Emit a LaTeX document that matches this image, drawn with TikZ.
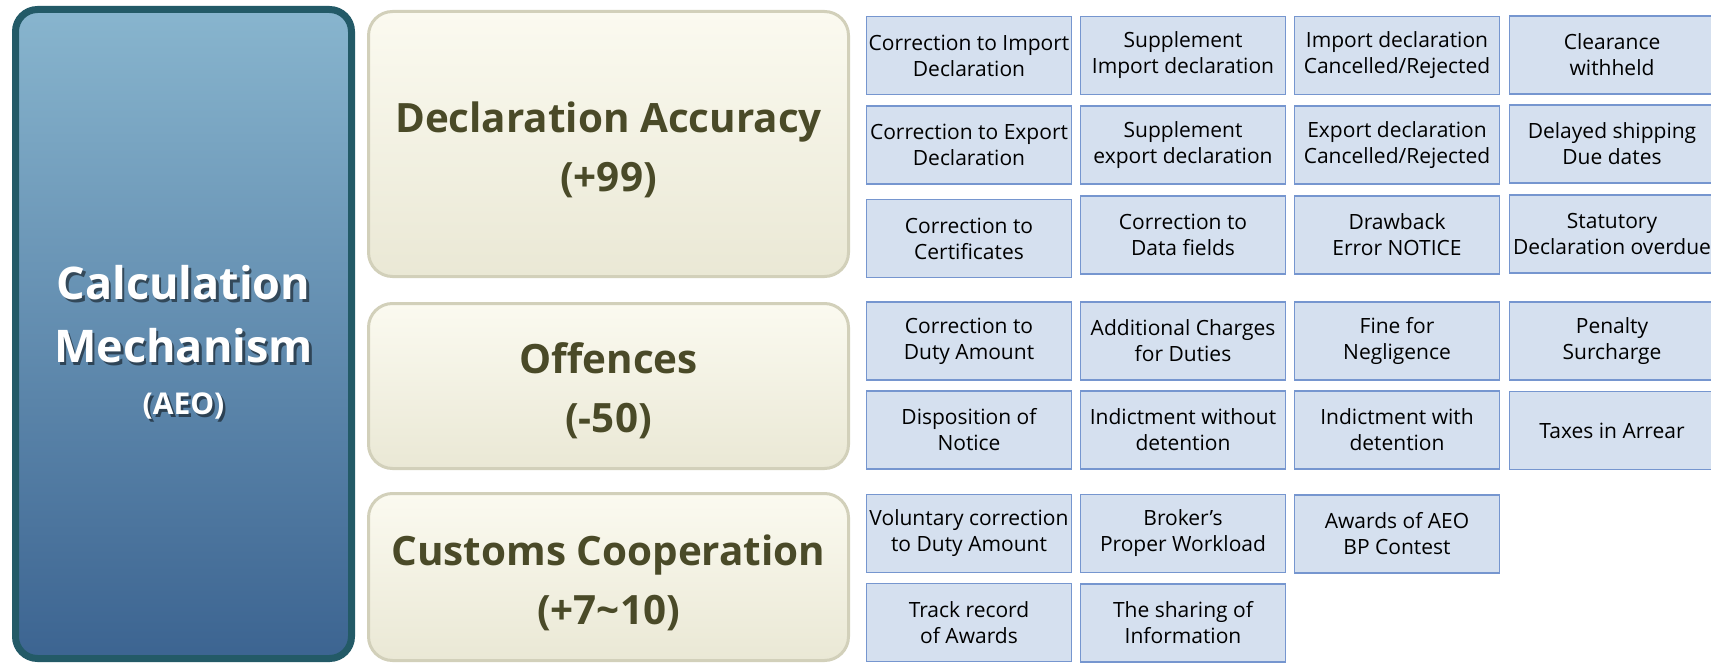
\documentclass[tikz,border=0pt]{standalone}
\usepackage{fontspec}
\setmainfont{Open Sans}
\usetikzlibrary{positioning}

\definecolor{mechtop}{HTML}{88B5CE}
\definecolor{mechbot}{HTML}{3C6491}
\definecolor{mechline}{HTML}{235A67}
\definecolor{grptop}{HTML}{FBFAF0}
\definecolor{grpbot}{HTML}{EAE8D5}
\definecolor{grpline}{HTML}{D2D0BA}
\definecolor{grptext}{HTML}{4A4A28}
\definecolor{cellfill}{HTML}{D5E0EF}
\definecolor{cellline}{HTML}{7696CF}

\tikzset{
  mechbox/.style={draw=mechline, line width=3.5pt, rounded corners=11pt,
    top color=mechtop, bottom color=mechbot,
    minimum width=168pt, minimum height=324.5pt, inner sep=0pt},
  mechtext/.style={text=white, font=\bfseries\fontsize{22.5}{28}\selectfont, inner sep=0pt},
  mechsmall/.style={mechtext, font=\bfseries\fontsize{15}{18}\selectfont},
  mechshadow/.style={text=black, opacity=0.5},
  grpbox/.style={draw=grpline, line width=1.5pt, rounded corners=12pt,
    top color=grptop, bottom color=grpbot, minimum width=240pt, inner sep=0pt},
  grptitle/.style={text=grptext, align=center, inner sep=0pt,
    font=\bfseries\fontsize{20.2}{29.5}\selectfont},
  cell/.style={draw=cellline, fill=cellfill, line width=0.75pt,
    minimum width=102.5pt, minimum height=39pt, inner sep=0pt, align=center,
    font=\fontsize{10.5}{13}\selectfont},
}

\begin{document}
\begin{tikzpicture}[x=0.5pt,y=-0.5pt]
  \useasboundingbox (0,0) rectangle (1711,663);

  % left block
  \node[mechbox] (mech) at (183.5,334) {};
  \node[mechtext,mechshadow] (calc-s) at (186,286) {Calculation};
  \node[mechtext,mechshadow] (mecha-s) at (186,349) {Mechanism};
  \node[mechsmall,mechshadow] (aeo-s) at (186,409) {(AEO)};
  \node[mechtext] (calc) at (183.5,283) {Calculation};
  \node[mechtext] (mecha) at (183.5,346) {Mechanism};
  \node[mechsmall] (aeo) at (183.5,406) {(AEO)};

  % groups
  \node[grpbox, minimum height=132.5pt] (accuracy) at (608.5,144) {};
  \node[grptitle] (accuracy-t) at (608.5,150) {Declaration Accuracy\\(+99)};

  \node[grpbox, minimum height=82.5pt] (offences) at (608.5,386) {};
  \node[grptitle] (offences-t) at (608.5,391) {Offences\\(-50)};

  \node[grpbox, minimum height=83.5pt] (coop) at (608.5,577) {};
  \node[grptitle] (coop-t) at (608.5,583) {Customs Cooperation\\(+7\textasciitilde 10)};

  % declaration accuracy items
  \node[cell] (acc11) at (969,55.5) {Correction to Import\\Declaration};
  \node[cell] (acc12) at (1183,55.5) {Supplement\\Import declaration};
  \node[cell] (acc13) at (1397,55.5) {Import declaration\\Cancelled/Rejected};
  \node[cell] (acc14) at (1612,55) {Clearance\\withheld};

  \node[cell] (acc21) at (969,145) {Correction to Export\\Declaration};
  \node[cell] (acc22) at (1183,145) {Supplement\\export declaration};
  \node[cell] (acc23) at (1397,145) {Export declaration\\Cancelled/Rejected};
  \node[cell] (acc24) at (1612,144) {Delayed shipping\\Due dates};

  \node[cell] (acc31) at (969,238.5) {Correction to\\Certificates};
  \node[cell] (acc32) at (1183,235) {Correction to\\Data fields};
  \node[cell] (acc33) at (1397,235) {Drawback\\Error NOTICE};
  \node[cell] (acc34) at (1612,234) {Statutory\\Declaration overdue};

  % offences items
  \node[cell] (off11) at (969,341) {Correction to\\Duty Amount};
  \node[cell] (off12) at (1183,341) {Additional Charges\\for Duties};
  \node[cell] (off13) at (1397,341) {Fine for\\Negligence};
  \node[cell] (off14) at (1612,341) {Penalty\\Surcharge};

  \node[cell] (off21) at (969,430) {Disposition of\\Notice};
  \node[cell] (off22) at (1183,430) {Indictment without\\detention};
  \node[cell] (off23) at (1397,430) {Indictment with\\detention};
  \node[cell] (off24) at (1612,430.5) {Taxes in Arrear};

  % cooperation items
  \node[cell] (coop11) at (969,533.5) {Voluntary correction\\to Duty Amount};
  \node[cell] (coop12) at (1183,533.5) {Broker’s\\Proper Workload};
  \node[cell] (coop13) at (1397,534) {Awards of AEO\\BP Contest};

  \node[cell] (coop21) at (969,622.5) {Track record\\of Awards};
  \node[cell] (coop22) at (1183,623) {The sharing of\\Information};
\end{tikzpicture}
\end{document}
